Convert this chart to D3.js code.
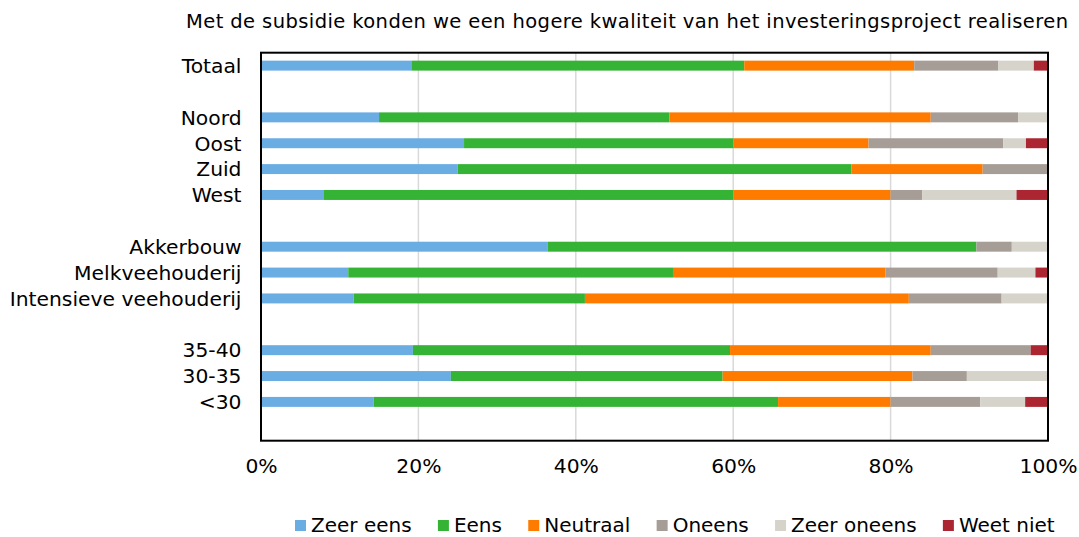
<!DOCTYPE html>
<html>
<head>
<meta charset="utf-8">
<script src="https://cdn.jsdelivr.net/npm/d3@7"></script>
<style>
  html, body { margin: 0; padding: 0; background: #fff; }
  svg { display: block; font-family: "DejaVu Sans", Verdana, sans-serif; }
</style>
</head>
<body>
<svg id="chart" width="1079" height="537"></svg>
<script>
// Row labels, top to bottom; empty strings are spacer rows between groups
const categories = ["Totaal", "", "Noord", "Oost", "Zuid", "West", "",
  "Akkerbouw", "Melkveehouderij", "Intensieve veehouderij", "",
  "35-40", "30-35", "<30", ""];

const seriesNames = ["Zeer eens", "Eens", "Neutraal", "Oneens", "Zeer oneens", "Weet niet"];
const seriesColors = ["#6aade3", "#35b335", "#ff7b00", "#a69d96", "#d6d3ca", "#ab2630"];

// Percentages per answer, one value per labelled row (spacer rows excluded)
const zeerEens   = [19.1, 15.0, 25.8, 25.0,  8.0, 36.4, 11.1, 11.8, 19.3, 24.1, 14.3];
const eens       = [42.3, 36.9, 34.2, 50.0, 52.0, 54.5, 41.3, 29.4, 40.3, 34.5, 51.4];
const neutraal   = [21.6, 33.2, 17.2, 16.7, 20.0,  0.0, 27.0, 41.2, 25.5, 24.1, 14.3];
const oneens     = [10.7, 11.1, 17.1,  8.3,  4.0,  4.5, 14.3, 11.8, 12.7,  6.9, 11.4];
const zeerOneens = [ 4.5,  3.8,  2.9,  0.0, 12.0,  4.6,  4.8,  5.9,  0.0, 10.3,  5.7];
const weetNiet   = [ 1.8,  0.0,  2.8,  0.0,  4.0,  0.0,  1.6,  0.0,  2.2,  0.0,  2.9];

const tickValues = [0, 0.2, 0.4, 0.6, 0.8, 1.0];
const titleText = "Met de subsidie konden we een hogere kwaliteit van het investeringsproject realiseren";

const svg = d3.select("#chart");
const plot = { left: 261, right: 1048, top: 52.7, bottom: 440.7 };

// Build row records for labelled rows
const labelled = categories.map((c, i) => ({ c, i })).filter(d => d.c !== "");
const seriesArrays = [zeerEens, eens, neutraal, oneens, zeerOneens, weetNiet];
const rows = labelled.map((d, k) => {
  const r = { slot: d.i, label: d.c };
  seriesNames.forEach((s, j) => { r[s] = seriesArrays[j][k]; });
  return r;
});

const x = d3.scaleLinear().domain([0, 1]).range([plot.left, plot.right]);
const y = d3.scaleBand()
  .domain(d3.range(categories.length))
  .range([plot.top, plot.bottom])
  .paddingInner(0.615)
  .paddingOuter(0.3075);

const color = d3.scaleOrdinal().domain(seriesNames).range(seriesColors);

// Gridlines
svg.append("g")
  .selectAll("line")
  .data(tickValues.slice(1, -1))
  .join("line")
  .attr("x1", d => x(d)).attr("x2", d => x(d))
  .attr("y1", plot.top).attr("y2", plot.bottom)
  .attr("stroke", "#d9d9d9")
  .attr("stroke-width", 1.5);

// Stacked bars, normalised to 100%
const stacked = d3.stack()
  .keys(seriesNames)
  .offset(d3.stackOffsetExpand)(rows);

svg.append("g")
  .selectAll("g")
  .data(stacked)
  .join("g")
  .attr("fill", d => color(d.key))
  .selectAll("rect")
  .data(d => d)
  .join("rect")
  .attr("x", d => x(d[0]))
  .attr("width", d => Math.max(0, x(d[1]) - x(d[0])))
  .attr("y", d => y(d.data.slot))
  .attr("height", y.bandwidth());

// Plot frame
svg.append("rect")
  .attr("x", plot.left).attr("y", plot.top)
  .attr("width", plot.right - plot.left)
  .attr("height", plot.bottom - plot.top)
  .attr("fill", "none")
  .attr("stroke", "#000")
  .attr("stroke-width", 2);

// Category labels
const yAxis = d3.axisLeft(y)
  .tickFormat(i => categories[i])
  .tickSize(0)
  .tickPadding(19.5);
const yg = svg.append("g")
  .attr("transform", `translate(${plot.left},0)`)
  .call(yAxis);
yg.select(".domain").remove();
yg.selectAll("text")
  .attr("font-size", 20.3)
  .attr("font-family", "DejaVu Sans, Verdana, sans-serif")
  .attr("fill", "#000")
  .attr("dy", "0.36em");

// Percentage axis labels
const xAxis = d3.axisBottom(x)
  .tickValues(tickValues)
  .tickFormat(d3.format(".0%"))
  .tickSize(0)
  .tickPadding(18);
const xg = svg.append("g")
  .attr("transform", `translate(0,${plot.bottom})`)
  .call(xAxis);
xg.select(".domain").remove();
xg.selectAll("text")
  .attr("font-size", 20.3)
  .attr("font-family", "DejaVu Sans, Verdana, sans-serif")
  .attr("fill", "#000");

// Title
svg.append("text")
  .attr("x", 186)
  .attr("y", 28.3)
  .attr("font-size", 19.5)
  .attr("fill", "#000")
  .attr("textLength", 882)
  .attr("lengthAdjust", "spacing")
  .text(titleText);

// Legend
const legend = svg.append("g").attr("transform", "translate(295,0)");
let lx = 0;
seriesNames.forEach(name => {
  const g = legend.append("g").attr("transform", `translate(${lx},0)`);
  g.append("rect")
    .attr("x", 0).attr("y", 520)
    .attr("width", 11).attr("height", 11)
    .attr("fill", color(name));
  const t = g.append("text")
    .attr("x", 16).attr("y", 531.7)
    .attr("font-size", 20)
    .attr("fill", "#000")
    .text(name);
  lx += 16 + t.node().getComputedTextLength() + 26.3;
});
</script>
</body>
</html>
